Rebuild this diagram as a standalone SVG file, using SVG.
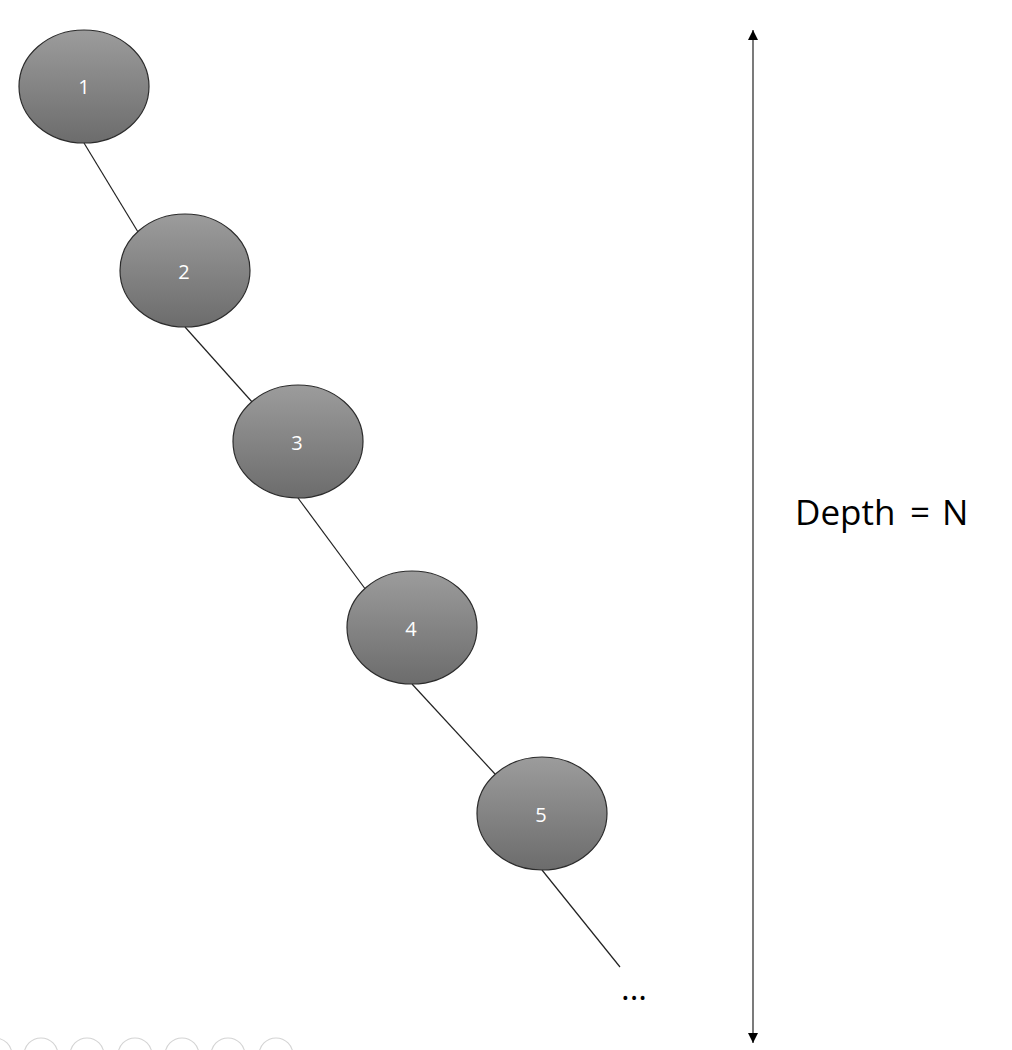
<svg xmlns="http://www.w3.org/2000/svg" width="1012" height="1050" viewBox="0 0 1012 1050">
  <defs>
    <linearGradient id="g" x1="0" y1="0" x2="0" y2="1">
      <stop offset="0" stop-color="#9c9c9c"/>
      <stop offset="1" stop-color="#6c6c6c"/>
    </linearGradient>
    <marker id="ah" viewBox="0 0 10 10" refX="10" refY="5" markerWidth="11" markerHeight="10" markerUnits="userSpaceOnUse" orient="auto-start-reverse">
      <path d="M0,0 L10,5 L0,10 z" fill="#000"/>
    </marker>
  </defs>
  <style>
    .node ellipse { fill: url(#g); stroke: #2b2b2b; stroke-width: 1.2; }
    .node text { fill: #ffffff; font-family: "Open Sans", "Noto Sans", sans-serif; font-size: 20px; text-anchor: middle; }
    .edge { stroke: #222; stroke-width: 1.2; fill: none; }
    .lbl { fill: #000; font-family: "Open Sans", "Noto Sans", sans-serif; }
    .ic { fill: none; stroke: #d4d4d4; stroke-width: 1.1; }
  </style>
  <rect width="1012" height="1050" fill="#fff"/>
  <g id="connectors">
    <line class="edge" x1="84" y1="143" x2="138" y2="232"/>
    <line class="edge" x1="185" y1="327" x2="253" y2="403"/>
    <line class="edge" x1="298" y1="498" x2="366" y2="590"/>
    <line class="edge" x1="412" y1="684" x2="495" y2="774"/>
    <line class="edge" x1="542" y1="870" x2="620" y2="967"/>
    <line class="edge" x1="753" y1="30" x2="753" y2="1043" stroke="#000" marker-start="url(#ah)" marker-end="url(#ah)"/>
  </g>
  <g id="node1" class="node"><ellipse cx="84" cy="86.5" rx="65" ry="56.5"/><text x="84" y="94">1</text></g>
  <g id="node2" class="node"><ellipse cx="185" cy="270.5" rx="65" ry="56.5"/><text x="184" y="279">2</text></g>
  <g id="node3" class="node"><ellipse cx="298" cy="441.5" rx="65" ry="56.5"/><text x="297" y="450">3</text></g>
  <g id="node4" class="node"><ellipse cx="412" cy="627.5" rx="65" ry="56.5"/><text x="411" y="636">4</text></g>
  <g id="node5" class="node"><ellipse cx="542" cy="813.5" rx="65" ry="56.5"/><text x="541" y="822">5</text></g>
  <text class="lbl" x="634" y="1000" font-size="33" text-anchor="middle">...</text>
  <text class="lbl" y="525" font-size="35"><tspan x="795">Depth</tspan><tspan x="910">=</tspan><tspan x="942">N</tspan></text>
  <g id="toolbar">
    <circle class="ic" cx="-5" cy="1055" r="17"/>
    <circle class="ic" cx="41" cy="1055" r="17"/>
    <circle class="ic" cx="87" cy="1055" r="17"/>
    <circle class="ic" cx="135" cy="1055" r="17"/>
    <circle class="ic" cx="182" cy="1055" r="17"/>
    <circle class="ic" cx="228" cy="1055" r="17"/>
    <circle class="ic" cx="276" cy="1055" r="17"/>
  </g>
</svg>
